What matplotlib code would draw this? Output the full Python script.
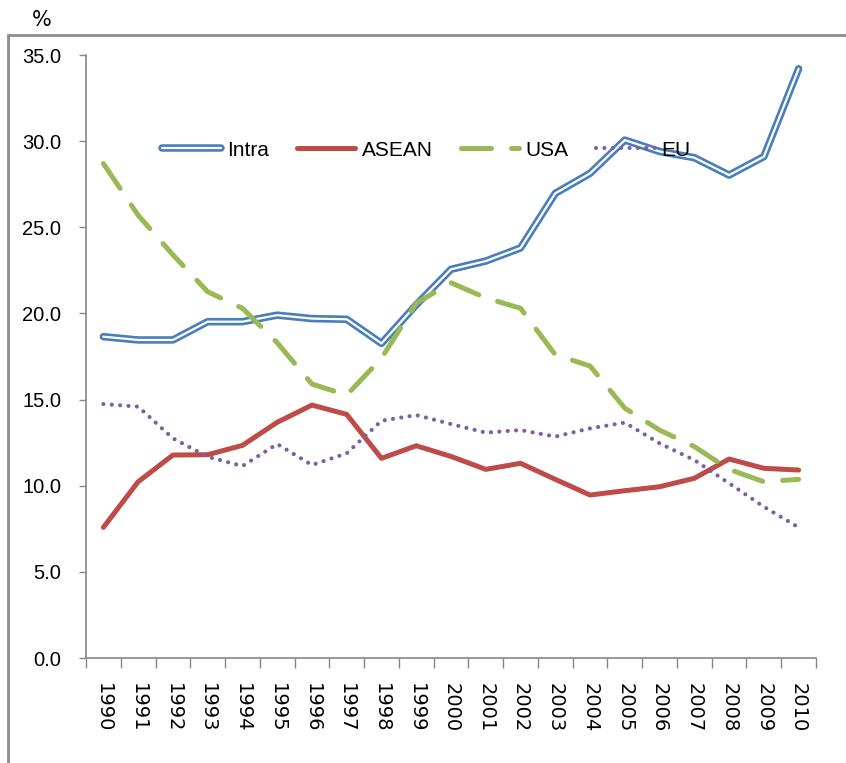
import matplotlib.pyplot as plt
import matplotlib.patheffects as pe
from matplotlib.patches import Rectangle
from matplotlib.ticker import FixedLocator
import numpy as np

years = [str(y) for y in range(1990, 2011)]
intra = [18.65, 18.46, 18.46, 19.52, 19.52, 19.9, 19.7, 19.66, 18.26, 20.5, 22.56,
         23.04, 23.8, 26.97, 28.13, 30.06, 29.4, 29.04, 28.03, 29.1, 34.2]
asean = [7.58, 10.23, 11.78, 11.8, 12.34, 13.68, 14.68, 14.14, 11.59, 12.32, 11.7,
         10.95, 11.3, 10.37, 9.46, 9.71, 9.94, 10.43, 11.55, 11.01, 10.91]
usa = [28.7, 25.7, 23.4, 21.26, 20.3, 18.3, 15.9, 15.26, 17.4, 20.6, 21.78,
       20.9, 20.3, 17.6, 16.95, 14.5, 13.23, 12.27, 10.95, 10.23, 10.37]
eu = [14.74, 14.59, 12.75, 11.68, 11.14, 12.42, 11.2, 11.88, 13.77, 14.1, 13.58,
      13.08, 13.23, 12.85, 13.33, 13.66, 12.46, 11.49, 10.14, 8.78, 7.58]
yticks = [0, 5, 10, 15, 20, 25, 30, 35]

fig = plt.figure(figsize=(8.46, 7.63), dpi=100)
ax = fig.add_axes([86/846, 1-658/763, 730/846, 603/763])

# chart area border (runs off the right and bottom of the picture)
fig.patches.append(Rectangle((8/846, -0.1), 1.2, 1.1 - 35/763, transform=fig.transFigure,
                             fill=False, edgecolor='#8c8c8c', linewidth=2))

x = np.arange(len(years))

# double line for Intra: thick blue stroke with a white core
ax.plot(x, intra, color='white', lw=1.6, solid_capstyle='round', label='Intra',
        path_effects=[pe.Stroke(linewidth=5.4, foreground='#4a7ebb'), pe.Normal()])
ax.plot(x, asean, color='#be4b48', lw=3.6, solid_capstyle='round', label='ASEAN')
ax.plot(x, usa, color='#98b954', lw=3.6, dashes=(6, 4), dash_capstyle='round', label='USA')
ax.plot(x, eu, color='#7d60a0', lw=3.0, dashes=(0.01, 2), dash_capstyle='round', label='EU')

ax.set_xlim(-0.5, 20.5)
ax.set_ylim(0, 35)
ax.set_yticks(yticks)
ax.set_yticklabels(['%.1f' % v for v in yticks])
ax.set_xticks(x)
ax.set_xticklabels(years, rotation=270)
ax.xaxis.set_minor_locator(FixedLocator(np.arange(-0.5, 21, 1)))
ax.tick_params(axis='x', which='major', length=0, pad=18, labelsize=14,
               labelfontfamily='DejaVu Sans')
ax.tick_params(axis='x', which='minor', length=7, color='#868686', width=1)
ax.tick_params(axis='y', length=5, color='#868686', width=1, pad=13, labelsize=14.5,
               labelfontfamily='Liberation Sans')

for s in ['top', 'right']:
    ax.spines[s].set_visible(False)
for s in ['left', 'bottom']:
    ax.spines[s].set_color('#868686')
    ax.spines[s].set_linewidth(1.2)

ax.legend(loc='center', bbox_to_anchor=(0.466, 0.842), ncol=4, frameon=False,
          prop={'family': 'Liberation Sans', 'size': 15},
          handlelength=2.8, handletextpad=0.3, columnspacing=1.35)

fig.text(42/846, 1-20/763, '%', fontsize=15, ha='center', va='center')

fig.savefig('out.png', dpi=100)
